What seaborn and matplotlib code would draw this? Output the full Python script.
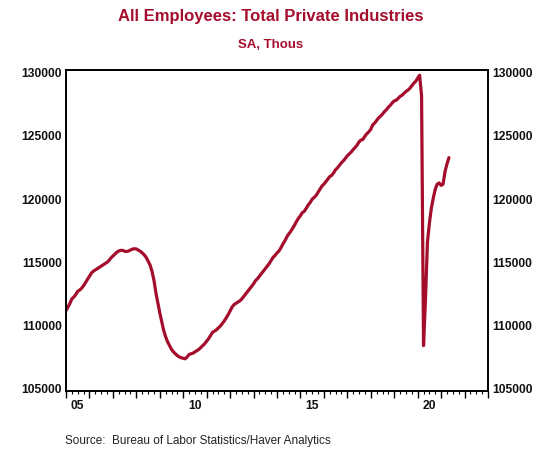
import numpy as np
import pandas as pd
import matplotlib
matplotlib.use("Agg")
import matplotlib.pyplot as plt
import seaborn as sns
from matplotlib.ticker import MultipleLocator, FixedLocator, FixedFormatter, NullFormatter

# ---- data (thousands, SA), monthly Jan 2005 - May 2021 ----
start_month = "2005-01-01"
v2005 = [111080, 111350, 111650, 112000, 112150, 112350, 112600, 112700, 112850, 113050, 113300, 113550]
v2006 = [113800, 114050, 114200, 114300, 114400, 114500, 114600, 114700, 114800, 114900, 115050, 115250]
v2007 = [115400, 115550, 115700, 115800, 115850, 115850, 115780, 115760, 115800, 115880, 115950, 115980]
v2008 = [115960, 115870, 115780, 115650, 115500, 115300, 115000, 114700, 114200, 113500, 112500, 111700]
v2009 = [110900, 110200, 109500, 109000, 108600, 108300, 108000, 107800, 107650, 107500, 107400, 107330]
v2010 = [107300, 107250, 107400, 107600, 107650, 107700, 107800, 107900, 108000, 108150, 108300, 108450]
v2011 = [108650, 108850, 109100, 109350, 109450, 109550, 109700, 109850, 110050, 110250, 110500, 110750]
v2012 = [111050, 111350, 111550, 111650, 111750, 111850, 112000, 112200, 112400, 112600, 112800, 113000]
v2013 = [113200, 113450, 113600, 113800, 114000, 114200, 114400, 114600, 114800, 115050, 115300, 115450]
v2014 = [115650, 115800, 116050, 116350, 116600, 116900, 117150, 117350, 117600, 117850, 118150, 118400]
v2015 = [118600, 118850, 118950, 119200, 119450, 119650, 119900, 120050, 120200, 120450, 120700, 120950]
v2016 = [121100, 121300, 121500, 121700, 121800, 122000, 122250, 122400, 122600, 122800, 122950, 123150]
v2017 = [123350, 123500, 123650, 123850, 124000, 124200, 124450, 124600, 124650, 124900, 125100, 125250]
v2018 = [125450, 125800, 125950, 126150, 126350, 126500, 126650, 126850, 127000, 127200, 127350, 127550]
v2019 = [127700, 127750, 127900, 128050, 128150, 128300, 128450, 128550, 128700, 128900, 129100, 129250]
v2020 = [129500, 129730, 128100, 108300, 112000, 116500, 118000, 119200, 120000, 120700, 121100, 121200]
v2021 = [121000, 121100, 122100, 122700, 123200]

y_ticks = [105000, 110000, 115000, 120000, 125000, 130000]
x_label_years = [2005, 2010, 2015, 2020]
x_labels = ["05", "10", "15", "20"]

title = "All Employees: Total Private Industries"
subtitle = "SA, Thous"
source = "Source:  Bureau of Labor Statistics/Haver Analytics"

values = (v2005 + v2006 + v2007 + v2008 + v2009 + v2010 + v2011 + v2012 + v2013
          + v2014 + v2015 + v2016 + v2017 + v2018 + v2019 + v2020 + v2021)
dates = pd.date_range(start_month, periods=len(values), freq="MS")
df = pd.DataFrame({"date": dates, "value": values})
df["year"] = df["date"].dt.year + (df["date"].dt.month - 1) / 12.0

RED = "#A50D2C"

sns.set_theme(style="white")
plt.rcParams["font.family"] = ["Liberation Sans", "DejaVu Sans"]

fig = plt.figure(figsize=(5.34, 4.52), dpi=100)
ax = fig.add_axes([66 / 534, 1 - 392 / 452, (488 - 66) / 534, (392 - 71) / 452])

sns.lineplot(data=df, x="year", y="value", ax=ax, color=RED, linewidth=2.3)

ax.set_xlim(2005, 2023)
ax.set_ylim(104700, 130150)
ax.set_xlabel("")
ax.set_ylabel("")

# y axis labels on both sides
ax.yaxis.set_major_locator(FixedLocator(y_ticks))
ax.yaxis.set_major_formatter(FixedFormatter([str(v) for v in y_ticks]))
ax.tick_params(axis="y", which="both", left=True, right=True, labelleft=True, labelright=True,
               length=0, pad=3, labelsize=8.7, labelcolor="#111111")
for lab in ax.get_yticklabels():
    lab.set_fontweight("bold")

# x axis: major ticks each year, minor quarterly, labels at mid-year
ax.xaxis.set_major_locator(MultipleLocator(1))
ax.xaxis.set_minor_locator(MultipleLocator(0.25))
ax.xaxis.set_major_formatter(NullFormatter())
ax.tick_params(axis="x", which="major", bottom=True, top=False, direction="out",
               length=5, width=1.0, color="black")
ax.tick_params(axis="x", which="minor", bottom=True, top=False, direction="out",
               length=2.5, width=0.8, color="black")
for yr, lab in zip(x_label_years, x_labels):
    ax.text(yr + 0.5, -0.045, lab, transform=ax.get_xaxis_transform(),
            ha="center", va="center", fontsize=8.7, fontweight="bold", color="#111111")

for sp in ax.spines.values():
    sp.set_visible(True)
    sp.set_color("black")
    sp.set_linewidth(1.4)

title_fonts = ["Liberation Sans Narrow", "Liberation Sans", "DejaVu Sans"]
fig.text(271 / 534, 1 - 16 / 452, title, ha="center", va="center", fontsize=12,
         fontweight="bold", color=RED, family=title_fonts)
fig.text(271 / 534, 1 - 45 / 452, subtitle, ha="center", va="center", fontsize=9.5,
         fontweight="bold", color=RED, family=title_fonts)
fig.text(65 / 534, 1 - 441 / 452, source, ha="left", va="center", fontsize=8.5,
         color="#222222")

fig.savefig("out.png", dpi=100)
